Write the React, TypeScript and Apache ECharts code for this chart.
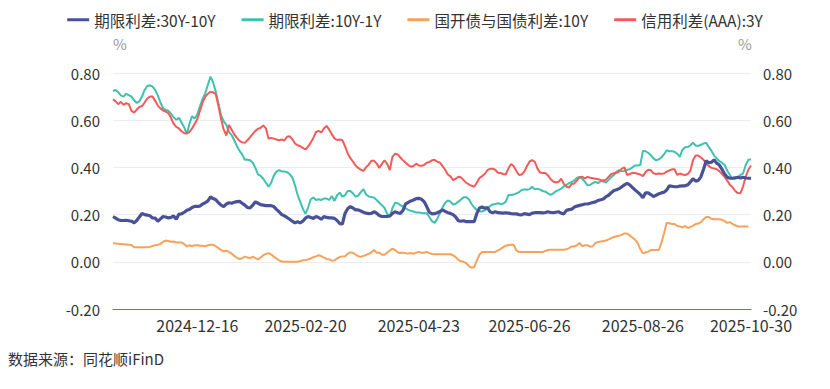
import React, { useEffect, useRef } from "react";
import * as echarts from "echarts";

// Trading calendar (SSE) for the period shown
const startDate = "2024-10-31";
const endDate = "2025-10-30";
const holidays = [
  "2025-01-01", "2025-01-28", "2025-01-29", "2025-01-30", "2025-01-31",
  "2025-02-03", "2025-02-04", "2025-04-04", "2025-05-01", "2025-05-02",
  "2025-05-05", "2025-06-02", "2025-10-01", "2025-10-02", "2025-10-03",
  "2025-10-06", "2025-10-07", "2025-10-08",
];
const labelDates = ["2024-12-16", "2025-02-20", "2025-04-23", "2025-06-26", "2025-08-26", "2025-10-30"];
const yTicks = { min: -0.2, max: 0.8, interval: 0.2 };

function tradingDays(): string[] {
  const out: string[] = [];
  const d = new Date(startDate + "T00:00:00Z");
  const end = new Date(endDate + "T00:00:00Z");
  while (d <= end) {
    const s = d.toISOString().slice(0, 10);
    const wd = d.getUTCDay();
    if (wd !== 0 && wd !== 6 && holidays.indexOf(s) < 0) out.push(s);
    d.setUTCDate(d.getUTCDate() + 1);
  }
  return out;
}
const categories = tradingDays();

const seriesNames = ["期限利差:30Y-10Y", "期限利差:10Y-1Y", "国开债与国债利差:10Y", "信用利差(AAA):3Y"];

const term30y10y = [
  .192, .185, .178, .175, .175, .176, .174, .172, .165, .175, .190, .205, .200, .198, .195, .186, .185, .172, .182, .192,
  .190, .186, .188, .194, .180, .202, .203, .210, .218, .222, .230, .235, .235, .236, .245, .250, .258, .275, .268, .263,
  .250, .240, .234, .245, .250, .248, .252, .255, .256,
  .248, .240, .230, .228, .240, .254, .248, .242, .240, .238, .238, .238, .234, .222, .212, .200, .195, .188, .180, .172,
  .165, .170, .165, .172, .185, .192, .188, .184, .192, .188, .180, .192, .188, .186, .186, .184, .175, .162, .160, .205,
  .225, .234, .228, .220, .220, .215, .210,
  .206, .204, .205, .212, .206, .196, .192, .192, .192, .194, .205, .212, .208, .205, .218, .245, .252, .258, .262, .268,
  .269, .265, .255, .234, .210, .203, .204, .208, .213, .220, .214, .208, .205, .200, .190, .174, .172, .174, .170, .170,
  .170, .170, .205, .228, .232, .227, .230,
  .212, .208, .212, .208, .207, .206, .208, .206, .204, .203, .203, .200, .199, .204, .202, .200, .206, .208, .208, .208,
  .207, .209, .212, .209, .208, .210, .212, .206, .203, .218, .221, .223, .232, .236, .239, .242, .245, .245, .248, .251,
  .254, .260, .263, .266, .276, .282, .293, .302,
  .305, .310, .318, .326, .332, .326, .315, .305, .295, .285, .272, .292, .292, .285, .277, .282, .288, .292, .295, .304,
  .322, .320, .318, .318, .321, .322, .322, .326, .338, .352, .342, .345, .360, .392, .428, .420, .422, .432, .418, .410,
  .392, .372, .358, .354, .354, .356, .358, .355, .358, .355, .354, .354,
];

const term10y1y = [
  .724, .728, .718, .705, .700, .712, .706, .700, .685, .673, .680, .700, .728, .745, .748, .742, .728, .705, .675, .650,
  .643, .640, .628, .612, .602, .610, .590, .570, .541, .585, .617, .607, .625, .660, .690, .715, .750, .785, .760, .720,
  .670, .620, .595, .580, .550, .537, .515, .490, .470,
  .455, .432, .433, .430, .420, .398, .370, .364, .352, .335, .318, .335, .365, .382, .388, .383, .383, .380, .372, .358,
  .325, .285, .255, .225, .203, .230, .265, .272, .262, .265, .262, .268, .268, .262, .279, .258, .282, .293, .276, .282,
  .300, .300, .290, .276, .280, .295, .308,
  .285, .277, .275, .272, .262, .250, .240, .228, .203, .192, .228, .250, .248, .240, .235, .226, .220, .216, .213, .209,
  .209, .207, .206, .206, .190, .172, .165, .182, .206, .230, .250, .260, .255, .243, .246, .255, .264, .273, .273, .265,
  .245, .230, .220, .214, .213, .218, .226,
  .236, .243, .245, .248, .245, .246, .255, .283, .283, .285, .290, .295, .304, .307, .305, .308, .318, .307, .310, .306,
  .300, .297, .290, .284, .290, .299, .304, .310, .320, .326, .333, .339, .345, .356, .360, .352, .339, .324, .326, .333,
  .339, .333, .342, .340, .336, .347, .360, .367,
  .382, .388, .384, .385, .390, .392, .400, .408, .408, .410, .470, .468, .462, .452, .438, .430, .434, .442, .455, .473,
  .468, .468, .466, .458, .445, .475, .485, .486, .494, .505, .493, .491, .496, .501, .504, .486, .470, .450, .438, .427,
  .420, .410, .386, .368, .352, .352, .358, .368, .375, .410, .432, .434,
];

const cdbSpread10y = [
  .079, .078, .076, .075, .074, .073, .072, .071, .062, .062, .062, .062, .062, .062, .063, .067, .070, .072, .076, .085,
  .090, .088, .085, .086, .082, .082, .082, .075, .065, .070, .066, .070, .070, .068, .068, .066, .070, .072, .072, .066,
  .058, .050, .044, .047, .042, .035, .025, .017, .012,
  .015, .022, .018, .016, .022, .016, .010, .018, .028, .033, .037, .031, .022, .014, .006, .001, 0, 0, 0, 0,
  0, 0, .002, .007, .008, .010, .014, .020, .023, .028, .024, .018, .012, .011, .004, .006, .014, .020, .023, .024,
  .034, .040, .038, .031, .024, .021,
  .025, .029, .034, .040, .050, .038, .039, .030, .030, .039, .048, .056, .050, .040, .037, .039, .036, .035, .037, .034,
  .039, .042, .038, .038, .042, .037, .033, .032, .032, .032, .032, .032, .032, .032, .028, .020, .008, .002, .000, -.006,
  -.018, -.025, -.022, .005, .030, .042, .042,
  .042, .042, .042, .042, .048, .054, .062, .068, .071, .072, .072, .048, .041, .041, .041, .041, .041, .041, .041, .041,
  .041, .041, .046, .050, .051, .051, .051, .051, .051, .051, .053, .058, .065, .065, .070, .080, .066, .070, .070, .064,
  .066, .080, .084, .086, .088, .090, .095, .100,
  .105, .108, .111, .114, .120, .120, .112, .103, .094, .080, .054, .036, .040, .043, .050, .050, .050, .050, .080, .120,
  .165, .163, .160, .160, .152, .150, .145, .152, .143, .148, .152, .160, .162, .168, .180, .190, .190, .182, .180, .180,
  .180, .178, .172, .165, .168, .160, .155, .150, .150, .150, .150, .150,
];

const creditAAA3y = [
  .688, .680, .668, .678, .665, .672, .668, .640, .632, .645, .656, .660, .675, .692, .700, .700, .682, .662, .650, .641,
  .636, .630, .610, .585, .572, .565, .553, .545, .544, .550, .565, .585, .605, .640, .675, .700, .712, .720, .718, .710,
  .660, .605, .560, .535, .580, .560, .540, .525, .512,
  .506, .504, .515, .528, .542, .555, .563, .568, .578, .565, .522, .525, .522, .518, .515, .518, .514, .530, .532, .520,
  .502, .494, .490, .483, .476, .488, .505, .525, .550, .555, .548, .565, .576, .560, .540, .523, .516, .518, .515, .490,
  .460, .440, .425, .408, .398, .390, .385,
  .400, .412, .428, .428, .417, .398, .415, .430, .415, .389, .445, .458, .455, .442, .430, .420, .410, .403, .406, .416,
  .408, .407, .410, .420, .423, .430, .432, .424, .420, .405, .390, .370, .362, .346, .352, .360, .358, .346, .335, .328,
  .322, .318, .335, .355, .363, .372, .388,
  .394, .394, .390, .377, .376, .372, .370, .396, .414, .405, .385, .368, .370, .382, .405, .425, .431, .424, .395, .378,
  .376, .376, .366, .350, .340, .336, .339, .352, .330, .318, .315, .330, .332, .345, .358, .360, .354, .360, .356, .354,
  .352, .350, .347, .345, .348, .360, .372, .375,
  .377, .382, .395, .400, .368, .372, .377, .376, .373, .370, .363, .380, .390, .388, .375, .372, .374, .373, .374, .382,
  .387, .392, .392, .368, .374, .370, .368, .372, .386, .430, .450, .450, .442, .432, .418, .405, .398, .395, .392, .384,
  .372, .360, .344, .326, .316, .300, .291, .290, .320, .360, .390, .408,
];

const colors = ["#4A5297", "#3EC1AE", "#F5A35C", "#F55A5A"];
const widths = [3.2, 2, 2, 2];

export default function App() {
  const ref = useRef<HTMLDivElement>(null);
  useEffect(() => {
    document.body.style.margin = "0";
    if (!ref.current) return;
    const chart = echarts.init(ref.current, null, { renderer: "svg" });
    const dataSets = [term30y10y, term10y1y, cdbSpread10y, creditAAA3y];
    const labelIdx = new Set(labelDates.map((d) => categories.indexOf(d)));
    const font = "'Microsoft YaHei', 'Noto Sans CJK SC', 'Noto Sans', sans-serif";
    const yAxisCommon = {
      type: "value",
      min: yTicks.min,
      max: yTicks.max,
      interval: yTicks.interval,
      axisLine: { show: false },
      axisTick: { show: false },
      splitLine: { lineStyle: { color: "#ECECF4", width: 1 } },
      name: "%",
      nameGap: 22,
      nameTextStyle: { color: "#9A9A9A", fontSize: 15, fontFamily: font },
    };
    chart.setOption({
      animation: false,
      color: colors,
      textStyle: { fontFamily: font },
      legend: {
        top: 7,
        left: "center",
        itemWidth: 22,
        itemHeight: 3,
        itemGap: 26,
        icon: "rect",
        textStyle: { color: "#333", fontSize: 15.5, fontFamily: font },
        data: seriesNames,
      },
      grid: { left: 113, right: 79, top: 73, bottom: 80, containLabel: false },
      xAxis: {
        type: "category",
        data: categories,
        boundaryGap: false,
        axisLine: { onZero: false, lineStyle: { color: "#6B7696", width: 1 } },
        axisTick: { show: false },
        axisLabel: {
          color: "#333",
          fontSize: 16,
          lineHeight: 14,
          margin: 9,
          interval: (i: number) => labelIdx.has(i),
          fontFamily: font,
        },
        splitLine: { show: false },
      },
      yAxis: [
        {
          ...yAxisCommon,
          position: "left",
          nameTextStyle: { ...yAxisCommon.nameTextStyle, padding: [0, 0, 0, 14] },
          axisLabel: { color: "#333", fontSize: 15, lineHeight: 14, margin: 13, formatter: (v: number) => v.toFixed(2), fontFamily: font },
        },
        {
          ...yAxisCommon,
          position: "right",
          nameTextStyle: { ...yAxisCommon.nameTextStyle, padding: [0, 12, 0, 0] },
          axisLabel: { color: "#333", fontSize: 15, lineHeight: 14, margin: 12, formatter: (v: number) => v.toFixed(2), fontFamily: font },
          splitLine: { show: false },
        },
      ],
      series: seriesNames.map((name, k) => ({
        name,
        type: "line",
        yAxisIndex: 0,
        data: dataSets[k],
        showSymbol: false,
        symbol: "none",
        lineStyle: { width: widths[k], color: colors[k] },
        z: k === 0 ? 3 : 2,
      })),
      graphic: [
        {
          type: "text",
          left: 8,
          top: 351,
          style: { text: "数据来源：同花顺iFinD", fill: "#333", fontSize: 15, fontFamily: font },
        },
      ],
    });
    return () => chart.dispose();
  }, []);
  return <div ref={ref} style={{ width: 830, height: 389 }} />;
}
